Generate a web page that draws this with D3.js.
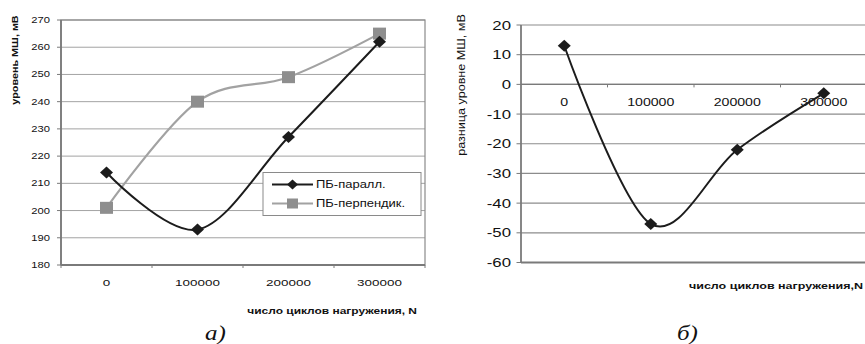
<!DOCTYPE html>
<html>
<head>
<meta charset="utf-8">
<script src="https://cdn.jsdelivr.net/npm/d3@7"></script>
<style>
  html, body { margin: 0; padding: 0; background: #fff; }
  svg { display: block; }
  text { font-family: "Liberation Sans", Arial, sans-serif; fill: #111; }
  .fig { font-family: "Liberation Serif", "Times New Roman", serif; font-style: italic; }
</style>
</head>
<body>
<svg id="chart" width="865" height="344"></svg>
<script>
// Number of loading cycles (category axis, shared by both panels)
const categories = ["0", "100000", "200000", "300000"];

// Panel a: noise level, mV
const seriesNames = ["ПБ-паралл.", "ПБ-перпендик."];
const parallel = [214, 193, 227, 262];
const perpendicular = [201, 240, 249, 265];
const levelTicks = [180, 190, 200, 210, 220, 230, 240, 250, 260, 270];

// Panel б: level difference, mV
const difference = [13, -47, -22, -3];
const diffTicks = [-60, -50, -40, -30, -20, -10, 0, 10, 20];

const svg = d3.select("#chart");

// text helper: horizontally widened glyphs, anchored at (x, y)
function label(g, x, y, str, opts) {
  const o = Object.assign({ size: 10, k: 1.25, anchor: "start", weight: "normal", rotate: 0, cls: null }, opts || {});
  const t = g.append("text")
    .attr("transform", `translate(${x},${y}) rotate(${o.rotate}) scale(${o.k},1)`)
    .attr("text-anchor", o.anchor)
    .attr("font-size", o.size)
    .attr("font-weight", o.weight)
    .text(str);
  if (o.cls) t.attr("class", o.cls);
  return t;
}

function diamond(s) { return `M0,${-s} L${s + 0.5},0 L0,${s} L${-s - 0.5},0 Z`; }

const smooth = d3.curveCardinal.tension(0);

/* ---------------- Panel a ---------------- */
{
  const g = svg.append("g");
  const x = d3.scaleBand().domain(categories).range([61, 425]);
  const y = d3.scaleLinear().domain([180, 270]).range([265, 20]);
  const cx = d => x(d) + x.bandwidth() / 2;

  // horizontal gridlines
  g.selectAll(".grid").data(levelTicks).join("line")
    .attr("x1", 61).attr("x2", 425)
    .attr("y1", d => y(d)).attr("y2", d => y(d))
    .attr("stroke", "#a3a3a3").attr("stroke-width", 1);

  // plot frame
  g.append("rect").attr("x", 61).attr("y", y(270)).attr("width", 364).attr("height", y(180) - y(270))
    .attr("fill", "none").attr("stroke", "#8a8a8a").attr("stroke-width", 1.2);
  g.append("line").attr("x1", 61).attr("x2", 61).attr("y1", y(270)).attr("y2", y(180))
    .attr("stroke", "#7a7a7a").attr("stroke-width", 1.8);
  g.append("line").attr("x1", 61).attr("x2", 425).attr("y1", y(180)).attr("y2", y(180))
    .attr("stroke", "#7a7a7a").attr("stroke-width", 1.8);

  // y ticks and labels
  g.selectAll(".yt").data(levelTicks).join("line")
    .attr("x1", 57).attr("x2", 61).attr("y1", d => y(d)).attr("y2", d => y(d))
    .attr("stroke", "#7a7a7a");
  levelTicks.forEach(v => label(g, 50, y(v) + 3, String(v), { size: 8.6, k: 1.3, anchor: "end" }));

  // x ticks at category boundaries, labels at centres
  const bounds = categories.map(c => x(c)).concat([x.range()[1]]);
  g.selectAll(".xt").data(bounds).join("line")
    .attr("x1", d => d).attr("x2", d => d).attr("y1", y(180)).attr("y2", y(180) + 3)
    .attr("stroke", "#7a7a7a");
  categories.forEach(c => label(g, cx(c), 285.5, c, { size: 9.6, k: 1.4, anchor: "middle" }));

  // axis titles
  label(g, 417, 314, "число циклов нагружения, N", { size: 9.2, k: 1.3, anchor: "end", weight: "bold" });
  label(g, 17.5, 60, "уровень МШ, мВ", { size: 9, k: 1.2, anchor: "middle", weight: "bold", rotate: -90 });

  const line = d3.line().x((d, i) => cx(categories[i])).y(d => y(d)).curve(smooth);

  // perpendicular series (grey, squares)
  g.append("path").datum(perpendicular).attr("d", line)
    .attr("fill", "none").attr("stroke", "#a2a2a2").attr("stroke-width", 2.2);
  g.selectAll(".sq").data(perpendicular).join("rect")
    .attr("x", (d, i) => cx(categories[i]) - 6.5).attr("y", d => y(d) - 6)
    .attr("width", 13).attr("height", 12).attr("fill", "#8e8e8e");

  // parallel series (black, diamonds)
  g.append("path").datum(parallel).attr("d", line)
    .attr("fill", "none").attr("stroke", "#1c1c1c").attr("stroke-width", 2);
  g.selectAll(".dm").data(parallel).join("path")
    .attr("transform", (d, i) => `translate(${cx(categories[i])},${y(d)})`)
    .attr("d", diamond(6)).attr("fill", "#1c1c1c");

  // legend
  const lg = g.append("g");
  lg.append("rect").attr("x", 263).attr("y", 172.5).attr("width", 158).attr("height", 43)
    .attr("fill", "#fff").attr("stroke", "#8a8a8a").attr("stroke-width", 1);
  const rows = [
    { name: seriesNames[0], y: 184.5, color: "#1c1c1c", mark: "diamond" },
    { name: seriesNames[1], y: 203.5, color: "#a2a2a2", mark: "square" }
  ];
  rows.forEach(r => {
    lg.append("line").attr("x1", 272).attr("x2", 313).attr("y1", r.y).attr("y2", r.y)
      .attr("stroke", r.color).attr("stroke-width", 2.2);
    if (r.mark === "diamond") {
      lg.append("path").attr("transform", `translate(292.5,${r.y})`).attr("d", diamond(5)).attr("fill", "#1c1c1c");
    } else {
      lg.append("rect").attr("x", 287).attr("y", r.y - 5).attr("width", 11).attr("height", 10).attr("fill", "#8e8e8e");
    }
    label(lg, 316, r.y + 3.5, r.name, { size: 10, k: 1.3 });
  });

  label(g, 205, 340, "а)", { size: 20, k: 1.25, cls: "fig" });
}

/* ---------------- Panel б ---------------- */
{
  const g = svg.append("g");
  const x = d3.scaleBand().domain(categories).range([521, 867]);
  const y = d3.scaleLinear().domain([-60, 20]).range([262.5, 25]);
  const cx = d => x(d) + x.bandwidth() / 2;

  g.selectAll(".grid").data(diffTicks).join("line")
    .attr("x1", 521).attr("x2", 867)
    .attr("y1", d => y(d)).attr("y2", d => y(d))
    .attr("stroke", "#8c8c8c").attr("stroke-width", 1.2);

  g.append("line").attr("x1", 521).attr("x2", 521).attr("y1", y(20)).attr("y2", y(-60))
    .attr("stroke", "#7a7a7a").attr("stroke-width", 1.8);
  g.append("line").attr("x1", 521).attr("x2", 867).attr("y1", y(-60)).attr("y2", y(-60))
    .attr("stroke", "#7a7a7a").attr("stroke-width", 1.8);
  g.append("line").attr("x1", 521).attr("x2", 867).attr("y1", y(0)).attr("y2", y(0))
    .attr("stroke", "#7a7a7a").attr("stroke-width", 1.3);

  g.selectAll(".yt").data(diffTicks).join("line")
    .attr("x1", 516.5).attr("x2", 521).attr("y1", d => y(d)).attr("y2", d => y(d))
    .attr("stroke", "#7a7a7a");
  diffTicks.forEach(v => label(g, 511, y(v) + 4.5, String(v), { size: 12, k: 1.4, anchor: "end" }));

  const bounds = categories.map(c => x(c)).slice(1);
  g.selectAll(".xt").data(bounds).join("line")
    .attr("x1", d => d).attr("x2", d => d).attr("y1", y(0)).attr("y2", y(0) + 3)
    .attr("stroke", "#7a7a7a");
  categories.forEach(c => label(g, cx(c), 106, c, { size: 10.4, k: 1.36, anchor: "middle" }));

  label(g, 863, 289, "число циклов нагружения,N", { size: 9.2, k: 1.36, anchor: "end", weight: "bold" });
  label(g, 465, 85, "разница уровне МШ, мВ", { size: 10.5, k: 1.2, anchor: "middle", rotate: -90 });

  const line = d3.line().x((d, i) => cx(categories[i])).y(d => y(d)).curve(smooth);
  g.append("path").datum(difference).attr("d", line)
    .attr("fill", "none").attr("stroke", "#1c1c1c").attr("stroke-width", 2);
  g.selectAll(".dm").data(difference).join("path")
    .attr("transform", (d, i) => `translate(${cx(categories[i])},${y(d)})`)
    .attr("d", diamond(6)).attr("fill", "#1c1c1c");

  label(g, 677, 340, "б)", { size: 20, k: 1.25, cls: "fig" });
}
</script>
</body>
</html>
